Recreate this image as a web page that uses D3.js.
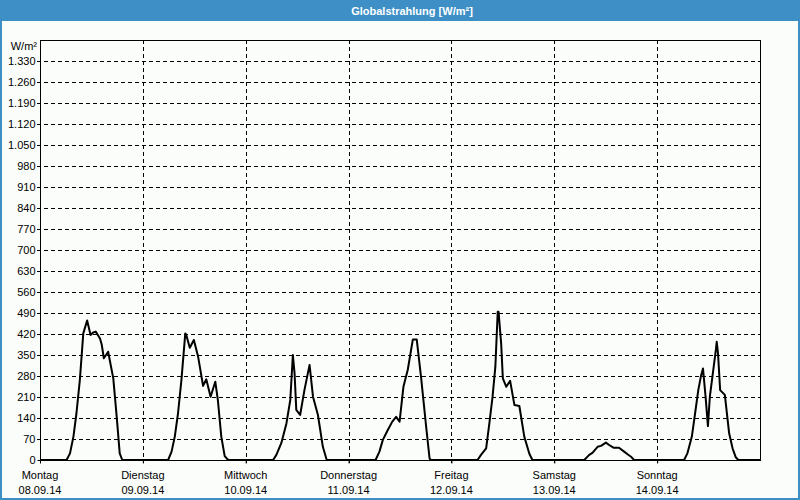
<!DOCTYPE html>
<html>
<head>
<meta charset="utf-8">
<script src="https://cdn.jsdelivr.net/npm/d3@7"></script>
<style>
  html, body { margin: 0; padding: 0; background: #fbfdfb; }
  svg { display: block; }
  text { font-family: "Liberation Sans", Arial, sans-serif; }
</style>
</head>
<body>
<svg id="chart" width="800" height="500"></svg>
<script>
// ---- Data ----
const title = "Globalstrahlung [W/m²]";
const unitLabel = "W/m²";
const dayNames = ["Montag", "Dienstag", "Mittwoch", "Donnerstag", "Freitag", "Samstag", "Sonntag"];
const dayDates = ["08.09.14", "09.09.14", "10.09.14", "11.09.14", "12.09.14", "13.09.14", "14.09.14"];
const yTicks = [0, 70, 140, 210, 280, 350, 420, 490, 560, 630, 700, 770, 840, 910, 980, 1050, 1120, 1190, 1260, 1330];

// [hour of day, W/m²]
const montag = [[0,0],[6.2,0],[7.0,22],[7.8,78],[8.5,155],[9.3,267],[10.1,422],[11.0,465],[11.8,417],[12.4,425],[13.0,428],[14.0,405],[14.4,385],[14.9,339],[15.4,350],[15.9,361],[17.1,272],[17.9,144],[18.6,22],[19.2,0],[24,0]];
const dienstag = [[0,0],[5.9,0],[6.7,28],[7.45,78],[8.2,155],[9.0,267],[9.9,422],[10.1,418],[10.95,374],[11.9,400],[12.9,344],[14.05,247],[14.8,269],[15.8,211],[16.9,261],[17.5,200],[18.3,78],[19.1,13],[19.9,0],[24,0]];
const mittwoch = [[0,0],[6.4,0],[7.15,17],[8.3,56],[9.5,122],[10.4,200],[11.0,350],[11.4,289],[11.8,167],[12.7,150],[13.7,233],[14.9,317],[15.7,211],[16.85,150],[18.0,44],[18.9,0],[24,0]];
const donnerstag = [[0,0],[6.3,0],[7.2,28],[8.0,67],[9.15,100],[10.2,128],[11.1,144],[11.9,128],[12.8,244],[13.8,300],[15.0,402],[15.9,402],[16.9,278],[18.1,111],[18.9,5],[19.2,0],[24,0]];
const freitag = [[0,0],[6.1,0],[6.9,17],[8.1,39],[8.85,122],[9.6,211],[10.25,311],[10.8,494],[11.0,494],[11.6,389],[12.0,272],[12.8,244],[13.7,264],[14.7,183],[15.85,180],[17.0,78],[18.2,20],[18.9,0],[24,0]];
const samstag = [[0,0],[7.0,0],[8.15,17],[8.9,24],[10.1,44],[10.9,47],[12.05,58],[12.8,50],[13.8,41],[15.1,41],[16.3,28],[17.1,19],[17.9,11],[18.6,0],[24,0]];
const sonntag = [[0,0],[6.3,0],[7.05,22],[8.1,78],[8.85,155],[9.6,233],[10.2,278],[10.7,305],[11.3,211],[11.85,113],[12.3,211],[12.9,278],[13.7,367],[13.9,394],[14.2,356],[14.7,233],[15.8,217],[16.8,89],[17.6,39],[18.35,9],[18.95,0],[24,0]];

const days = [montag, dienstag, mittwoch, donnerstag, freitag, samstag, sonntag];
const series = [];
days.forEach((d, i) => d.forEach(p => series.push([i * 24 + p[0], p[1]])));

// ---- Layout ----
const W = 800, H = 500;
const svg = d3.select("#chart");
const blue = "#3d8fc6";
const mLeft = 40, mRight = 760, mTop = 40, mBottom = 460;

const x = d3.scaleLinear().domain([0, 168]).range([mLeft, mRight]);
const y = d3.scaleLinear().domain([0, 1400]).range([mBottom, mTop]);

const de = d3.formatLocale({decimal: ",", thousands: ".", grouping: [3], currency: ["", " €"]});
const fmt = de.format(",d");

// background
svg.append("rect").attr("x", 0).attr("y", 0).attr("width", W).attr("height", H).attr("fill", "#fbfdfb");

// title bar
svg.append("rect").attr("x", 0).attr("y", 0).attr("width", W).attr("height", 21).attr("fill", blue);
svg.append("text").attr("x", 412).attr("y", 15).attr("text-anchor", "middle")
  .attr("fill", "#ffffff").attr("font-size", 11).attr("font-weight", "bold").text(title);

// outer frame
svg.append("rect").attr("x", 1).attr("y", 1).attr("width", W - 2).attr("height", H - 2)
  .attr("fill", "none").attr("stroke", blue).attr("stroke-width", 2);

// horizontal gridlines
svg.append("g").selectAll("line").data(yTicks.filter(v => v > 0)).join("line")
  .attr("x1", mLeft - 3).attr("x2", mRight)
  .attr("y1", d => Math.round(y(d)) + 0.5).attr("y2", d => Math.round(y(d)) + 0.5)
  .attr("stroke", "#000").attr("stroke-width", 1).attr("stroke-dasharray", "4,3");

// vertical gridlines (day boundaries)
svg.append("g").selectAll("line").data(d3.range(1, 7).map(i => i * 24)).join("line")
  .attr("x1", d => Math.round(x(d)) + 0.5).attr("x2", d => Math.round(x(d)) + 0.5)
  .attr("y1", mTop).attr("y2", mBottom + 3)
  .attr("stroke", "#000").attr("stroke-width", 1).attr("stroke-dasharray", "4,3");

// y axis
const yAxis = d3.axisLeft(y).tickValues(yTicks).tickFormat(fmt).tickSizeInner(3).tickSizeOuter(0).tickPadding(2);
const gy = svg.append("g").attr("transform", `translate(${mLeft + 0.5},0)`).call(yAxis);
gy.select(".domain").remove();
gy.selectAll("text").attr("font-size", 11).attr("fill", "#000").attr("font-family", "Liberation Sans, Arial, sans-serif");
gy.selectAll("line").attr("stroke", "#000");

// unit label
svg.append("text").attr("x", 37).attr("y", 50).attr("text-anchor", "end")
  .attr("font-size", 11).attr("fill", "#000").text(unitLabel);

// x axis
const xAxis = d3.axisBottom(x).tickValues(d3.range(0, 7).map(i => i * 24)).tickFormat("").tickSizeInner(3).tickSizeOuter(0);
const gx = svg.append("g").attr("transform", `translate(0,${mBottom + 0.5})`).call(xAxis);
gx.select(".domain").remove();
gx.selectAll("line").attr("stroke", "#000");

const xl = svg.append("g").selectAll("text").data(d3.range(0, 7)).join("text")
  .attr("x", d => x(d * 24)).attr("text-anchor", "middle")
  .attr("font-size", 11).attr("fill", "#000");
xl.append("tspan").attr("x", d => x(d * 24)).attr("y", 479).text(d => dayNames[d]);
xl.append("tspan").attr("x", d => x(d * 24)).attr("y", 494).text(d => dayDates[d]);

// plot frame
svg.append("rect").attr("x", mLeft + 0.5).attr("y", mTop + 0.5)
  .attr("width", mRight - mLeft).attr("height", mBottom - mTop)
  .attr("fill", "none").attr("stroke", "#000").attr("stroke-width", 1);

// data line
const line = d3.line().x(d => x(d[0])).y(d => y(d[1]));
svg.append("path").datum(series).attr("d", line)
  .attr("fill", "none").attr("stroke", "#000").attr("stroke-width", 2)
  .attr("stroke-linejoin", "round");
</script>
</body>
</html>
